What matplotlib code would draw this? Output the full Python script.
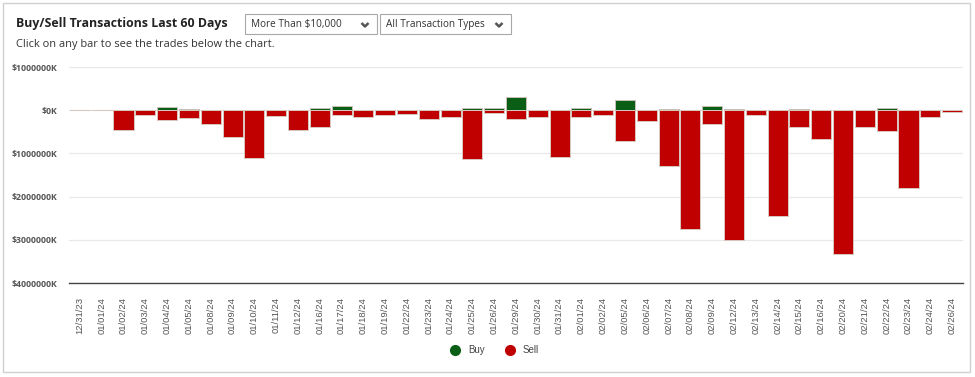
import matplotlib.pyplot as plt
import matplotlib.patches as mpatches
from matplotlib.lines import Line2D
import numpy as np

# trade dates shown on the x axis
dates = ['12/31/23', '01/01/24', '01/02/24', '01/03/24', '01/04/24', '01/05/24',
         '01/08/24', '01/09/24', '01/10/24', '01/11/24', '01/12/24', '01/16/24',
         '01/17/24', '01/18/24', '01/19/24', '01/22/24', '01/23/24', '01/24/24',
         '01/25/24', '01/26/24', '01/29/24', '01/30/24', '01/31/24', '02/01/24',
         '02/02/24', '02/05/24', '02/06/24', '02/07/24', '02/08/24', '02/09/24',
         '02/12/24', '02/13/24', '02/14/24', '02/15/24', '02/16/24', '02/20/24',
         '02/21/24', '02/22/24', '02/23/24', '02/24/24', '02/26/24']

# values in $K
buy_k = [0, 0, 0, 0, 80000, 30000, 0, 0, 0, 0, 0, 50000, 90000, 0, 0, 0, 0, 0,
         40000, 50000, 310000, 0, 0, 60000, 0, 240000, 0, 30000, 0, 90000,
         30000, 0, 0, 30000, 0, 0, 0, 60000, 0, 0, 0]
sell_k = [0, 0, 460000, 100000, 220000, 180000, 330000, 630000, 1100000, 130000,
          460000, 380000, 120000, 160000, 100000, 90000, 200000, 150000, 1140000,
          60000, 200000, 160000, 1090000, 160000, 120000, 720000, 260000, 1290000,
          2760000, 330000, 3010000, 110000, 2450000, 380000, 660000, 3320000,
          380000, 480000, 1810000, 160000, 40000]

GREEN = '#0b5e16'
RED = '#c00000'
W, H = 975, 377

fig = plt.figure(figsize=(W / 100, H / 100), dpi=100)

def fx(px):
    return px / W

def fy(py):
    return 1 - py / H

# card border
fig.patches.append(mpatches.Rectangle((fx(3), fy(372)), fx(967), (369) / H,
                                      transform=fig.transFigure, fill=False,
                                      edgecolor='#d0d0d0', linewidth=1))

# header
fig.text(fx(16), fy(24), 'Buy/Sell Transactions Last 60 Days', fontsize=8.9,
         fontweight='bold', family='Open Sans', color='#222222', va='center')
fig.text(fx(16), fy(44), 'Click on any bar to see the trades below the chart.',
         fontsize=7.9, family='Open Sans', color='#333333', va='center')

# dropdowns
for x0, x1, label in [(245, 377, 'More Than $10,000'), (380, 511, 'All Transaction Types')]:
    fig.patches.append(mpatches.Rectangle((fx(x0), fy(34)), fx(x1 - x0), 20 / H,
                                          transform=fig.transFigure, fill=False,
                                          edgecolor='#a8a8a8', linewidth=0.8))
    fig.text(fx(x0 + 6), fy(24.5), label, fontsize=7.2, family='Open Sans',
             color='#333333', va='center')
    cx = x1 - 12
    fig.lines.append(Line2D([fx(cx - 3.5), fx(cx), fx(cx + 3.5)],
                            [fy(23), fy(26.5), fy(23)], transform=fig.transFigure,
                            color='#555555', linewidth=1.8, solid_capstyle='butt'))

ax = fig.add_axes([fx(69), fy(283), fx(963 - 69), (283 - 67) / H])
x = np.arange(len(dates))
ax.bar(x, buy_k, width=0.92, color=GREEN, edgecolor='#c8c0b8', linewidth=0.7)
ax.bar(x, [-v for v in sell_k], width=0.92, color=RED, edgecolor='#d8c8c0', linewidth=0.7)

ax.set_xlim(-0.5, len(dates) - 0.5)
ax.set_ylim(-4000000, 1000000)
ax.set_yticks(np.arange(-4000000, 1000001, 1000000))
ax.yaxis.set_major_formatter(plt.FuncFormatter(lambda v, p: f'${abs(v):.0f}K'))
ax.set_xticks(x)
ax.set_xticklabels(dates, rotation=90, fontsize=6.8, family='Liberation Sans', color='#555555')
for lab in ax.get_yticklabels():
    lab.set_fontsize(6.3)
    lab.set_family('Open Sans')
    lab.set_fontweight('bold')
    lab.set_color('#555555')
ax.tick_params(axis='both', length=0)
ax.tick_params(axis='y', pad=8.5)
ax.tick_params(axis='x', pad=10)
ax.grid(axis='y', color='#e8e8e8', linewidth=0.9)
ax.set_axisbelow(True)
for s in ['top', 'right', 'left']:
    ax.spines[s].set_visible(False)
ax.spines['bottom'].set_color('#444444')
ax.spines['bottom'].set_linewidth(1)

handles = [Line2D([], [], marker='o', linestyle='', markersize=7, color=GREEN, label='Buy'),
           Line2D([], [], marker='o', linestyle='', markersize=7, color=RED, label='Sell')]
leg = fig.legend(handles=handles, loc='center', bbox_to_anchor=(fx(492), fy(350)), ncol=2,
                 frameon=False, prop={'family': 'Liberation Sans', 'size': 7},
                 handletextpad=0.3, columnspacing=1.6)
for t in leg.get_texts():
    t.set_color('#444444')

fig.savefig('out.png', dpi=100)
